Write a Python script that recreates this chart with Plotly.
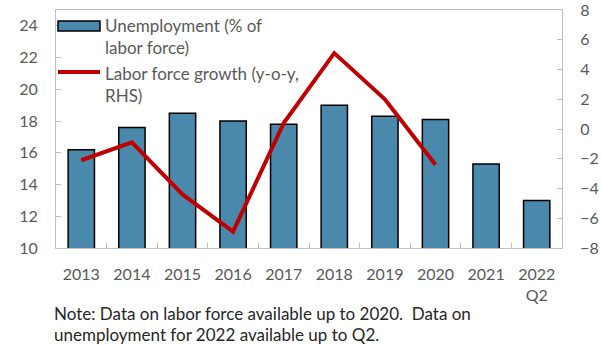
import plotly.graph_objects as go

years = ["2013", "2014", "2015", "2016", "2017", "2018", "2019", "2020", "2021", "2022<br>Q2"]
unemployment = [16.2, 17.6, 18.5, 18.0, 17.8, 19.0, 18.3, 18.1, 15.3, 13.0]
labor_growth_years = years[:8]
labor_growth = [-2.1, -0.9, -4.4, -6.9, 0.4, 5.1, 2.0, -2.4]

left_ticks = [10, 12, 14, 16, 18, 20, 22, 24]
right_ticks = [-8, -6, -4, -2, 0, 2, 4, 6, 8]

note_lines = [
    "Note: Data on labor force available up to 2020.  Data on",
    "unemployment for 2022 available up to Q2.",
]

BAR_COLOR = "#4A89AC"
LINE_COLOR = "#C00000"
AXIS_COLOR = "#BFBFBF"
TICK_FONT = dict(family="Lato", size=16, color="#595959")

W, H = 602, 345
L, R, T, B = 56, 40, 10, 97
PW, PH = W - L - R, H - T - B


def px(x):
    return (x - L) / PW


def py(y):
    return (H - B - y) / PH


fig = go.Figure()
fig.add_trace(go.Bar(
    x=years, y=unemployment, name="Unemployment (% of labor force)",
    marker=dict(color=BAR_COLOR, line=dict(color="#000000", width=1.5)),
))
fig.add_trace(go.Scatter(
    x=labor_growth_years, y=labor_growth, yaxis="y2", mode="lines",
    name="Labor force growth (y-o-y, RHS)",
    line=dict(color=LINE_COLOR, width=4),
))

fig.update_layout(
    width=W, height=H,
    margin=dict(l=L, r=R, t=T, b=B, autoexpand=False),
    paper_bgcolor="white", plot_bgcolor="white",
    showlegend=False,
    bargap=0.48,
    font=dict(family="Lato", color="#404040"),
    xaxis=dict(
        type="category", tickfont=TICK_FONT, automargin=False,
        showline=True, mirror=True, linecolor=AXIS_COLOR, linewidth=1,
        ticks="inside", tickson="boundaries", ticklen=5, tickcolor=AXIS_COLOR,
        ticklabelstandoff=12, showgrid=False,
    ),
    yaxis=dict(
        range=[10, 25], tickvals=left_ticks, tickfont=TICK_FONT, automargin=False,
        showline=True, mirror=True, linecolor=AXIS_COLOR, linewidth=1,
        ticks="inside", ticklen=5, tickcolor=AXIS_COLOR,
        ticklabelstandoff=14, showgrid=False, zeroline=False,
    ),
    yaxis2=dict(
        range=[-8.0001, 8.0001], tickvals=right_ticks, tickfont=TICK_FONT,
        automargin=False,
        overlaying="y", side="right",
        showline=True, linecolor=AXIS_COLOR, linewidth=1,
        ticks="inside", ticklen=5, tickcolor=AXIS_COLOR,
        ticklabelstandoff=14, ticklabeloverflow="allow",
        showgrid=False, zeroline=False,
    ),
)

# Legend drawn by hand: wide swatches with wrapped labels
fig.add_shape(type="rect", xref="paper", yref="paper",
              x0=px(58), x1=px(100), y0=py(31), y1=py(21),
              fillcolor=BAR_COLOR, line=dict(color="#000000", width=1.5))
fig.add_shape(type="line", xref="paper", yref="paper",
              x0=px(58), x1=px(100), y0=py(72), y1=py(72),
              line=dict(color=LINE_COLOR, width=4))
fig.add_annotation(xref="paper", yref="paper", x=px(103), y=py(36.5),
                   xanchor="left", yanchor="middle", align="left", showarrow=False,
                   text="Unemployment (% of<br>labor force)",
                   font=dict(family="Lato", size=17, color="#595959"))
fig.add_annotation(xref="paper", yref="paper", x=px(103), y=py(84),
                   xanchor="left", yanchor="middle", align="left", showarrow=False,
                   text="Labor force growth (y-o-y,<br>RHS)",
                   font=dict(family="Lato", size=17, color="#595959"))

# Footnote, one annotation per line for tight line spacing
for line_text, y_center in zip(note_lines, [313, 334]):
    fig.add_annotation(xref="paper", yref="paper", x=px(52), y=py(y_center),
                       xanchor="left", yanchor="middle", align="left", showarrow=False,
                       text=line_text,
                       font=dict(family="Lato", size=17, color="#262626"))

fig.write_html("out.html")
